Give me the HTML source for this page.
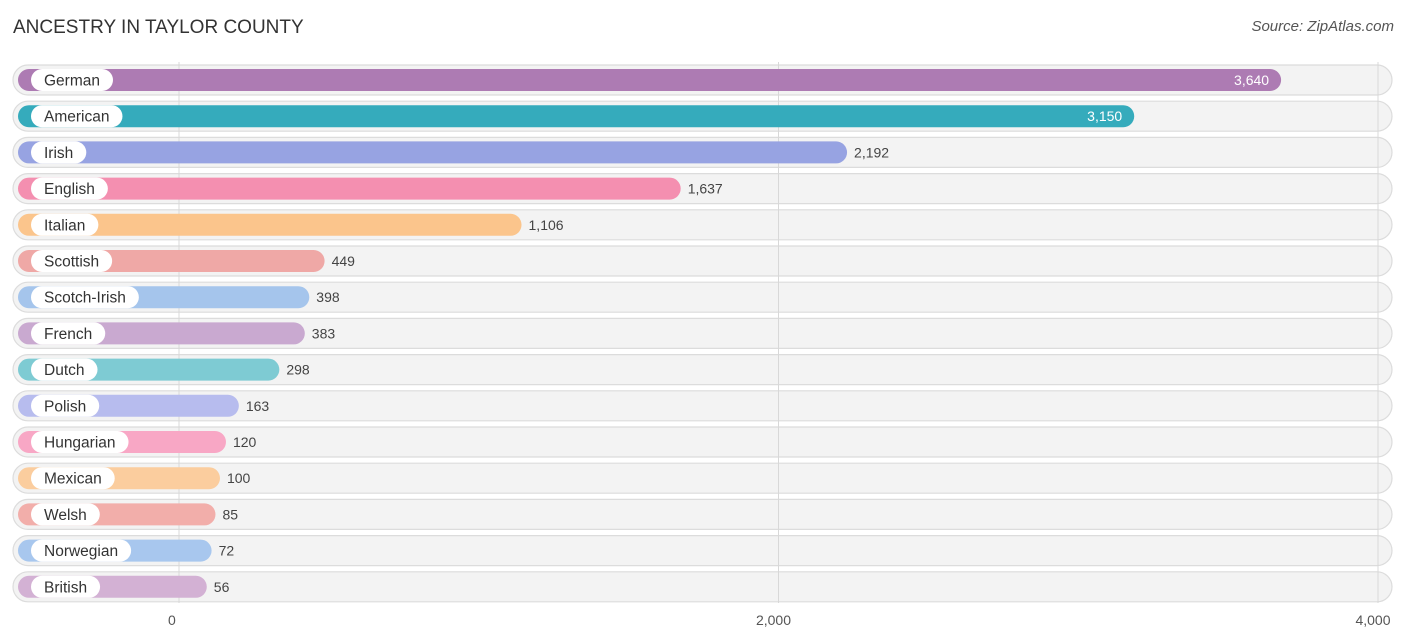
<!DOCTYPE html>
<html><head><meta charset="utf-8"><style>
body{margin:0;width:1406px;height:644px;background:#fff;font-family:"Liberation Sans",sans-serif;overflow:hidden;position:relative}
.t{position:absolute;left:13px;top:17px;font-size:19px;color:#333}
.s{position:absolute;right:12px;top:18px;font-size:15px;color:#555;font-style:italic}
</style></head><body>
<div class="t">ANCESTRY IN TAYLOR COUNTY</div>
<div class="s">Source: ZipAtlas.com</div>
<svg id="c" width="1406" height="644" style="position:absolute;left:0;top:0"></svg>
<script>
const categories=["German","American","Irish","English","Italian","Scottish","Scotch-Irish","French","Dutch","Polish","Hungarian","Mexican","Welsh","Norwegian","British"];
const values=[3640,3150,2192,1637,1106,449,398,383,298,163,120,100,85,72,56];
const colors=["#ad7bb3","#35abbc","#97a3e2","#f48fb0","#fbc58c","#efa8a6","#a5c5ec","#c9a9d0","#7ecbd3","#b7bcee","#f8a7c5","#fbcd9e","#f2aeaa","#a8c7ee","#d3b1d4"];
const tickVals=[0,2000,4000];
const tickLabels=["0","2,000","4,000"];
const NS="http://www.w3.org/2000/svg",svg=document.getElementById('c');
const x=v=>179+v*0.29975;
const y=i=>80+i*36.2;
function mk(t,a){const e=document.createElementNS(NS,t);for(const k in a)e.setAttribute(k,a[k]);svg.appendChild(e);return e;}
categories.forEach((c,i)=>{
 const bg=mk('rect',{x:13,y:y(i)-15,width:1379,height:30,rx:15,fill:'#f3f3f3',stroke:'#dcdcdc','stroke-width':1.2});
 
 
});
tickVals.forEach((t,k)=>{
 const l=mk('line',{x1:x(t),x2:x(t),y1:62,y2:603,stroke:'#d8d8d8','stroke-width':1});
 
 
 const tx=mk('text',{x:k==0?x(t)-11:x(t)-5,y:625,'font-size':14,fill:'#555','text-anchor':k==0?'start':'middle'});
 tx.textContent=tickLabels[k];
 
 
});
categories.forEach((c,i)=>{
 const cy=y(i),end=x(values[i])+11;
 const b=mk('rect',{x:18,y:cy-11,width:end-18,height:22,rx:11,fill:colors[i]});
 
 
 const p=mk('rect',{x:31,y:cy-11,width:60,height:22,rx:11,fill:'#fff'});
 
 
 const lt=mk('text',{x:44,y:cy+5.5,'font-size':15.5,fill:'#333'});
 lt.textContent=c;
 
 
 p.setAttribute('width',lt.getComputedTextLength()+26);
 const inside=values[i]>3000;
 const vt=mk('text',{x:inside?end-12:end+7,y:cy+5,'font-size':14,fill:inside?'#fff':'#444','text-anchor':inside?'end':'start'});
 vt.textContent=values[i].toLocaleString('en-US');
 
 
});
</script>
</body></html>
